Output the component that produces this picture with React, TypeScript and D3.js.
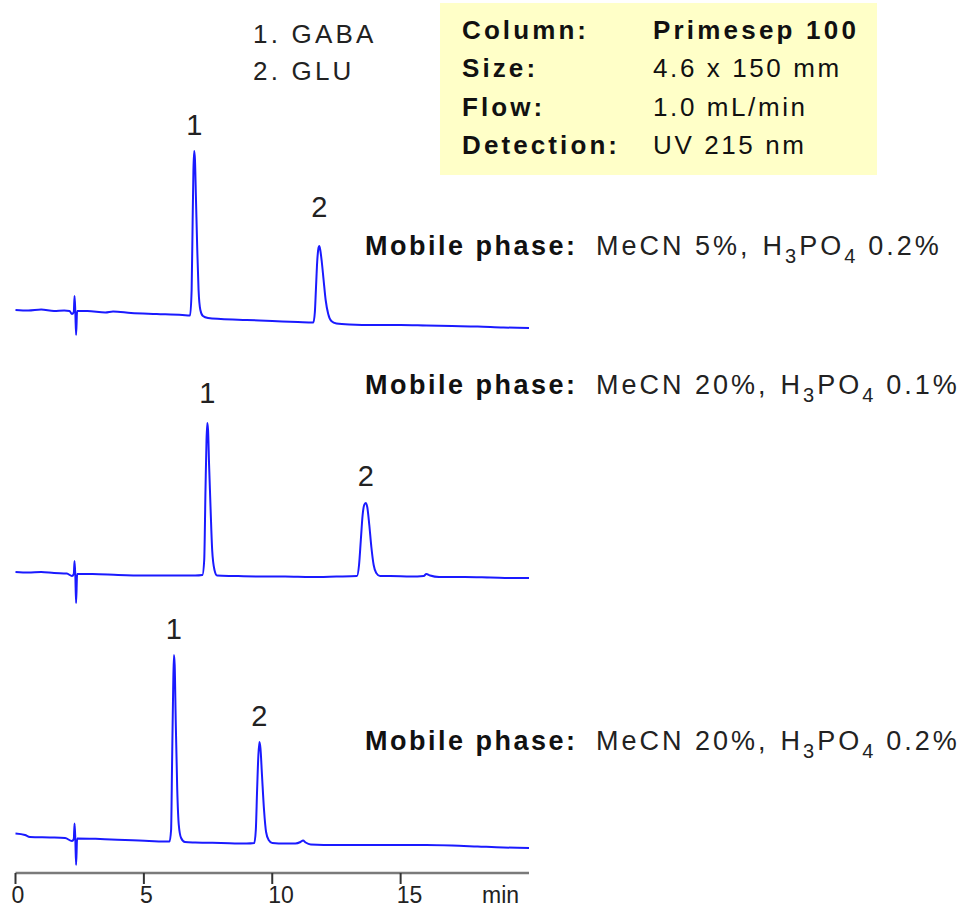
import React from 'react';
import * as d3 from 'd3';

// ---- data ----
const compounds = ['1. GABA', '2. GLU'];
const conditionLabels = ['Column:', 'Size:', 'Flow:', 'Detection:'];
const conditionValues = ['Primesep 100', '4.6 x 150 mm', '1.0 mL/min', 'UV 215 nm'];
const xTicks = [0, 5, 10, 15];
const xUnit = 'min';
const mecnValues = ['5%', '20%', '20%'];
const acidValues = ['0.2%', '0.1%', '0.2%'];

// [time (min), signal (a.u.)]
const trace1: [number, number][] = [
  [0, 20], [0.5, 19.5], [1.0, 20.5], [1.5, 19], [1.9, 19.5], [2.1, 19], [2.2, 16], [2.27, 18],
  [2.3, 34], [2.33, 18], [2.36, -5], [2.4, 19], [2.8, 19], [3.5, 17.5], [3.8, 18.5], [4.5, 17],
  [5.5, 16], [6.5, 15], [6.8, 14.5], [6.86, 40], [6.9, 110], [6.93, 160], [6.96, 179], [6.99, 170],
  [7.03, 130], [7.08, 80], [7.13, 40], [7.2, 20], [7.3, 14], [7.5, 12], [8, 11], [9, 10], [10, 9],
  [11, 8], [11.6, 7.5], [11.66, 18], [11.7, 40], [11.75, 68], [11.8, 82], [11.83, 84], [11.87, 80],
  [11.93, 68], [12.0, 50], [12.08, 30], [12.18, 16], [12.3, 9], [12.5, 6.5], [13, 5.5], [14, 5],
  [15, 5], [16, 4.5], [17, 4], [18, 3.5], [19, 2.5], [20, 2],
];
const trace2: [number, number][] = [
  [0, 18], [0.5, 17.5], [1, 18], [1.5, 17], [2.0, 16.5], [2.2, 14], [2.27, 16], [2.3, 29],
  [2.33, 15], [2.36, -13], [2.4, 16], [3, 16], [4, 15], [5, 14.5], [6, 14.5], [7, 14.5], [7.28, 15],
  [7.35, 30], [7.4, 100], [7.44, 150], [7.47, 167], [7.5, 160], [7.54, 125], [7.6, 80], [7.66, 40],
  [7.75, 20], [7.85, 14.5], [8.5, 14], [9.5, 13.5], [10.5, 13.5], [11.5, 13], [12.5, 13.5],
  [13.3, 14], [13.38, 25], [13.45, 50], [13.52, 75], [13.58, 85], [13.64, 87], [13.7, 83],
  [13.78, 65], [13.86, 43], [13.95, 25], [14.05, 17], [14.2, 14], [14.6, 14], [15.4, 13.5],
  [15.9, 14], [16.0, 16], [16.15, 14.5], [16.5, 13], [17.5, 13], [18.5, 12.5], [19.5, 12], [20, 12],
];
const trace3: [number, number][] = [
  [0, 16.5], [0.37, 15], [0.56, 13], [1.34, 12.5], [1.93, 12], [2.2, 9], [2.27, 11], [2.3, 26.5],
  [2.33, 11], [2.36, -15], [2.4, 11.5], [3.3, 11], [5.2, 9], [6.0, 8.5], [6.06, 20], [6.1, 90],
  [6.14, 160], [6.17, 195], [6.2, 185], [6.24, 130], [6.3, 60], [6.36, 25], [6.45, 12], [6.6, 8],
  [7.0, 7.5], [8.0, 7], [9.0, 6.5], [9.3, 7], [9.36, 20], [9.41, 60], [9.46, 95], [9.5, 108],
  [9.54, 102], [9.6, 75], [9.68, 40], [9.76, 18], [9.86, 10], [10.0, 7], [10.5, 6.5], [10.9, 6.5],
  [11.1, 8], [11.2, 9.5], [11.3, 7.5], [11.5, 5.5], [12.5, 5], [14, 5], [15, 5], [16, 5],
  [17, 4.5], [18, 3.5], [19, 2.5], [20, 2],
];
// peak apexes: [label, time, signal]
const peaks1: [string, number, number][] = [['1', 6.96, 179], ['2', 11.83, 84]];
const peaks2: [string, number, number][] = [['1', 7.47, 167], ['2', 13.64, 87]];
const peaks3: [string, number, number][] = [['1', 6.17, 195], ['2', 9.5, 108]];

// ---- layout ----
const W = 962;
const H = 909;
const FONT = "'Liberation Sans', Arial, Helvetica, sans-serif";
const panelBases = [330, 590, 850];
const labelLift = [[16, 29], [20, 17], [16, 16]];
const phaseBaselines = [255, 394, 750];
const axisY = 873;

export default function App() {
  const x = d3.scaleLinear().domain([0, 20]).range([15.5, 529]);
  const traces = [trace1, trace2, trace3];
  const peaks = [peaks1, peaks2, peaks3];

  return (
    <svg width={W} height={H} viewBox={`0 0 ${W} ${H}`}
      style={{ position: 'absolute', left: 0, top: 0, background: '#fff' }}
      fontFamily={FONT}>
      <rect x={0} y={0} width={W} height={H} fill="#fff" />

      {/* conditions box */}
      <rect x={440} y={3} width={437} height={172} fill="#FFFFC8" />
      {conditionLabels.map((l, i) => (
        <text key={'cl' + i} x={462} y={39 + i * 38.4} fontSize={26} fontWeight="bold"
          letterSpacing={3.1} fill="#111">{l}</text>
      ))}
      {conditionValues.map((v, i) => (
        <text key={'cv' + i} x={653} y={39 + i * 38.4} fontSize={26}
          fontWeight={i === 0 ? 'bold' : 'normal'} letterSpacing={i === 0 ? 3.2 : 2.6}
          fill="#111">{v}</text>
      ))}

      {/* compound legend */}
      {compounds.map((c, i) => (
        <text key={'cp' + i} x={253} y={43 + i * 37} fontSize={26} letterSpacing={3.2} fill="#222">{c}</text>
      ))}

      {/* chromatograms */}
      {traces.map((tr, i) => {
        const y = d3.scaleLinear().domain([0, 200]).range([panelBases[i], panelBases[i] - 200]);
        const line = d3.line<[number, number]>()
          .x(d => x(d[0]))
          .y(d => y(d[1]))
          .curve(d3.curveMonotoneX);
        return (
          <g key={'tr' + i}>
            <path d={line(tr) || ''} fill="none" stroke="#1a1aff" strokeWidth={2}
              strokeLinejoin="round" />
            {peaks[i].map((p, j) => (
              <text key={'pk' + j} x={x(p[1])} y={y(p[2]) - labelLift[i][j]} fontSize={29}
                textAnchor="middle" fill="#222">{p[0]}</text>
            ))}
          </g>
        );
      })}

      {/* mobile phase labels */}
      {mecnValues.map((m, i) => (
        <g key={'mp' + i}>
          <text x={365} y={phaseBaselines[i]} fontSize={27} fontWeight="bold" letterSpacing={2.5}
            fill="#111">Mobile phase:</text>
          <text x={596} y={phaseBaselines[i]} fontSize={27} letterSpacing={3} fill="#222">
            <tspan>{`MeCN ${m},`}</tspan>
            <tspan dx={12}>H</tspan>
            <tspan dy={8} fontSize={20}>3</tspan>
            <tspan dy={-8}>PO</tspan>
            <tspan dy={8} fontSize={20}>4</tspan>
            <tspan dy={-8} dx={10}>{acidValues[i]}</tspan>
          </text>
        </g>
      ))}

      {/* x axis */}
      <line x1={x(0)} x2={x(20)} y1={axisY} y2={axisY} stroke="#7a7a7a" strokeWidth={2.5} />
      {xTicks.map(t => (
        <g key={'tk' + t}>
          <line x1={x(t)} x2={x(t)} y1={axisY} y2={axisY + 11} stroke="#333" strokeWidth={2} />
          <text x={x(t) - 4} y={903} fontSize={23} fill="#222">{t}</text>
        </g>
      ))}
      <text x={482} y={903} fontSize={23} fill="#222">{xUnit}</text>
    </svg>
  );
}
